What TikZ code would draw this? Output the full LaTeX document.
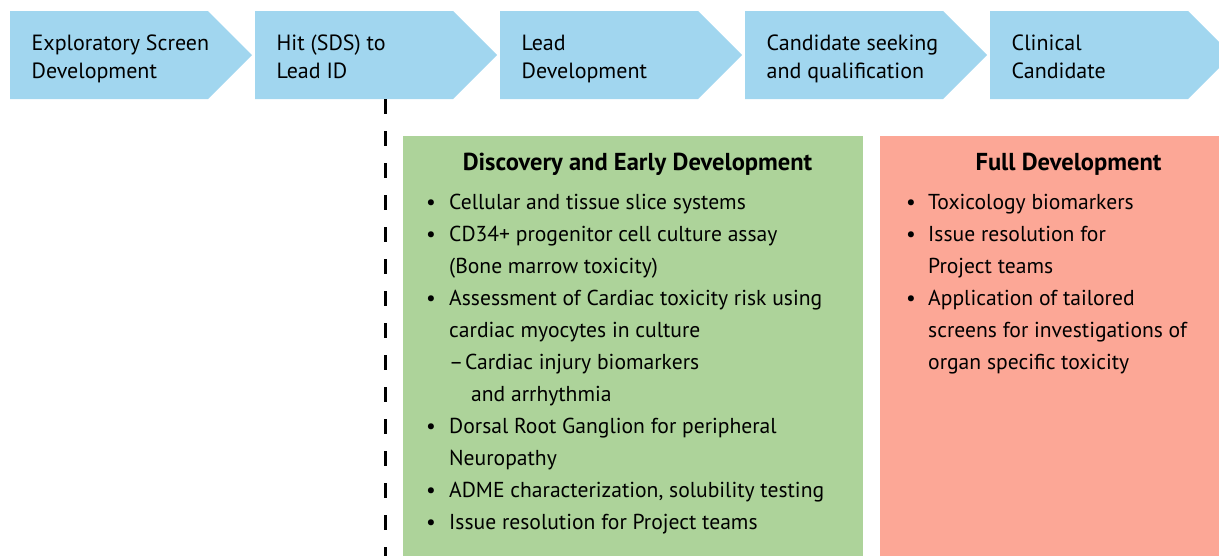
\documentclass[tikz,border=0pt]{standalone}
\usepackage{fontspec}
\setmainfont{PT Sans}
\definecolor{chevblue}{HTML}{A1D6EF}
\definecolor{discgreen}{HTML}{ADD39A}
\definecolor{fullred}{HTML}{FCA796}
\begin{document}
\begin{tikzpicture}[x=1pt,y=-1pt,
  chevfill/.style={fill=chevblue},
  ctext/.style={anchor=base west,inner sep=0pt,font=\fontsize{22}{28}\selectfont},
  btext/.style={anchor=base west,inner sep=0pt,font=\fontsize{21.6}{32}\selectfont},
  ttext/.style={anchor=base,inner sep=0pt,font=\fontsize{24.5}{28}\selectfont\bfseries},
  panel/.style={anchor=north west,inner sep=0pt,outer sep=0pt},
  divider/.style={line width=3pt,dash pattern=on 15pt off 17pt}]
\useasboundingbox (0,0) rectangle (1219,555);
\clip (0,0) rectangle (1219,555);
% chevrons
\foreach \x in {10,255,500,745,990}
  \fill[chevfill] (\x,11) -- ++(198,0) -- ++(44,44) -- ++(-44,44) -- ++(-198,0) -- cycle;
\node[ctext] (c1a) at (31.5,50) {Exploratory Screen};
\node[ctext] (c1b) at (31.5,78) {Development};
\node[ctext] (c2a) at (276.5,50) {Hit (SDS) to};
\node[ctext] (c2b) at (276.5,78) {Lead ID};
\node[ctext] (c3a) at (521.5,50) {Lead};
\node[ctext] (c3b) at (521.5,78) {Development};
\node[ctext] (c4a) at (766.5,50) {Candidate seeking};
\node[ctext] (c4b) at (766.5,78) {and qualification};
\node[ctext] (c5a) at (1011.5,50) {Clinical};
\node[ctext] (c5b) at (1011.5,78) {Candidate};
% panels
\node[panel,fill=discgreen,minimum width=460pt,minimum height=430pt] (disc) at (403,136) {};
\node[panel,fill=fullred,minimum width=350pt,minimum height=430pt] (full) at (880,136) {};
% dashed divider
\coordinate (dtop) at (385.5,99);
\coordinate (dbot) at (385.5,560);
\draw[divider] (dtop) -- (dbot);
% titles
\node[ttext] (dtitle) at (637.5,170) {Discovery and Early Development};
\node[ttext] (ftitle) at (1068.5,170) {Full Development};
% green list
\foreach \k in {0,1,3,7,9,10}
  \node[btext] (gb\k) at (426,{209.5+32*\k}) {•};
\foreach \k/\t in {0/{Cellular and tissue slice systems},
                   1/{CD34+ progenitor cell culture assay},
                   2/{(Bone marrow toxicity)},
                   3/{Assessment of Cardiac toxicity risk using},
                   4/{cardiac myocytes in culture},
                   7/{Dorsal Root Ganglion for peripheral},
                   8/{Neuropathy},
                   9/{ADME characterization, solubility testing},
                   10/{Issue resolution for Project teams}}
  \node[btext] (g\k) at (449,{209.5+32*\k}) {\t};
\node[btext] (gd5) at (449,{209.5+32*5}) {–};
\node[btext] (g5) at (465,{209.5+32*5}) {Cardiac injury biomarkers};
\node[btext] (g6) at (471,{209.5+32*6}) {and arrhythmia};
% red list
\foreach \k in {0,1,3}
  \node[btext] (rb\k) at (906,{209.5+32*\k}) {•};
\foreach \k/\t in {0/{Toxicology biomarkers},
                   1/{Issue resolution for},
                   2/{Project teams},
                   3/{Application of tailored},
                   4/{screens for investigations of},
                   5/{organ specific toxicity}}
  \node[btext] (r\k) at (928,{209.5+32*\k}) {\t};
\end{tikzpicture}
\end{document}
